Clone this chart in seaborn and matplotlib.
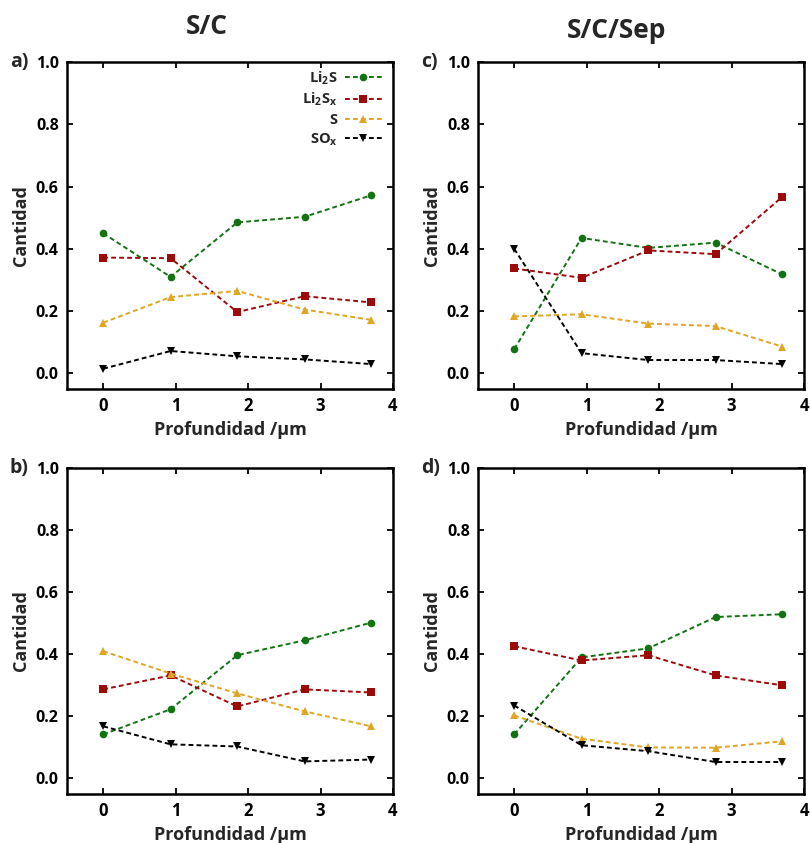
import numpy as np
import pandas as pd
import matplotlib
matplotlib.use("Agg")
import matplotlib.pyplot as plt
import seaborn as sns

# ---- data ----
depth = [0, 0.93, 1.85, 2.78, 3.7]
species = ["Li$_2$S", "Li$_2$S$_x$", "S", "SO$_x$"]

a_li2s = [0.450, 0.310, 0.485, 0.503, 0.572]
a_li2sx = [0.372, 0.370, 0.197, 0.248, 0.228]
a_s = [0.163, 0.245, 0.265, 0.205, 0.172]
a_sox = [0.015, 0.072, 0.055, 0.045, 0.030]

b_li2s = [0.142, 0.223, 0.397, 0.445, 0.502]
b_li2sx = [0.287, 0.332, 0.232, 0.287, 0.277]
b_s = [0.410, 0.338, 0.274, 0.216, 0.168]
b_sox = [0.168, 0.110, 0.103, 0.055, 0.061]

c_li2s = [0.078, 0.435, 0.403, 0.420, 0.318]
c_li2sx = [0.337, 0.307, 0.395, 0.383, 0.567]
c_s = [0.183, 0.190, 0.160, 0.152, 0.086]
c_sox = [0.400, 0.065, 0.043, 0.043, 0.030]

d_li2s = [0.142, 0.390, 0.419, 0.520, 0.529]
d_li2sx = [0.426, 0.380, 0.397, 0.332, 0.300]
d_s = [0.203, 0.128, 0.100, 0.099, 0.120]
d_sox = [0.235, 0.107, 0.088, 0.053, 0.053]

panels = {
    "a)": [a_li2s, a_li2sx, a_s, a_sox],
    "b)": [b_li2s, b_li2sx, b_s, b_sox],
    "c)": [c_li2s, c_li2sx, c_s, c_sox],
    "d)": [d_li2s, d_li2sx, d_s, d_sox],
}
x_ticks = [0, 1, 2, 3, 4]
y_ticks = [0.0, 0.2, 0.4, 0.6, 0.8, 1.0]
titles = ["S/C", "S/C/Sep"]

# ---- style ----
sns.set_theme(style="white")
plt.rcParams["font.family"] = ["Open Sans", "DejaVu Sans"]
plt.rcParams["font.weight"] = "bold"
plt.rcParams["axes.labelweight"] = "bold"
plt.rcParams["mathtext.fontset"] = "custom"
plt.rcParams["mathtext.rm"] = "Open Sans:bold"
plt.rcParams["mathtext.it"] = "Open Sans:bold"
plt.rcParams["mathtext.bf"] = "Open Sans:bold"
plt.rcParams["mathtext.default"] = "regular"

palette = {species[0]: "#127312", species[1]: "#9c0a0a",
           species[2]: "#e0a524", species[3]: "#000000"}
markers = {species[0]: "o", species[1]: "s", species[2]: "^", species[3]: "v"}
dashes = {s: (2.5, 1.6) for s in species}

W, H = 810, 843
fig = plt.figure(figsize=(W / 100, H / 100), dpi=100)

def ax_rect(l, r, t, b):
    return [l / W, 1 - b / H, (r - l) / W, (b - t) / H]

rects = {
    "a)": ax_rect(67, 393, 62, 389),
    "c)": ax_rect(478, 804, 62, 389),
    "b)": ax_rect(67, 393, 468, 794),
    "d)": ax_rect(478, 804, 468, 794),
}

for key, vals in panels.items():
    ax = fig.add_axes(rects[key])
    rows = []
    for sp, v in zip(species, vals):
        for x, y in zip(depth, v):
            rows.append({"x": x, "y": y, "sp": sp})
    df = pd.DataFrame(rows)
    sns.lineplot(data=df, x="x", y="y", hue="sp", style="sp",
                 palette=palette, markers=markers, dashes=dashes,
                 hue_order=species, style_order=species,
                 markersize=5.5, markeredgewidth=0, linewidth=1.4, ax=ax,
                 legend=(key == "a)"))
    ax.set_xlim(-0.5, 4)
    ax.set_ylim(-0.05, 1.0)
    ax.set_xticks(x_ticks)
    ax.set_yticks(y_ticks)
    ax.set_xticklabels([str(t) for t in x_ticks], fontsize=12, fontweight="bold")
    ax.set_yticklabels([f"{t:.1f}" for t in y_ticks], fontsize=11.5, fontweight="bold")
    ax.tick_params(direction="in", length=4, width=1.3, top=True, right=True,
                   bottom=True, left=True, pad=6, colors="black")
    for s in ax.spines.values():
        s.set_linewidth(1.8)
        s.set_color("black")
    ax.set_xlabel("Profundidad /μm", fontsize=13, fontweight="bold", labelpad=4)
    ax.set_ylabel("Cantidad", fontsize=13, fontweight="bold", labelpad=4)
    ax.text(-0.175, 1.0, key, transform=ax.transAxes, fontsize=14,
            fontweight="bold", ha="left", va="center")
    if key == "a)":
        leg = ax.legend(loc="upper right", frameon=False, markerfirst=False,
                        fontsize=10.5, handlelength=2.6, labelspacing=0.3,
                        borderaxespad=0.1, handletextpad=0.5,
                        bbox_to_anchor=(0.99, 1.0))
        for t in leg.get_texts():
            t.set_ha("right")
            t.set_fontweight("bold")
        leg._legend_box.align = "right"

fig.text(207 / W, 1 - 26 / H, titles[0], fontsize=19, fontweight="bold",
         ha="center", va="center")
fig.text(617 / W, 1 - 30 / H, titles[1], fontsize=19, fontweight="bold",
         ha="center", va="center")

fig.savefig("out.png", dpi=100)
